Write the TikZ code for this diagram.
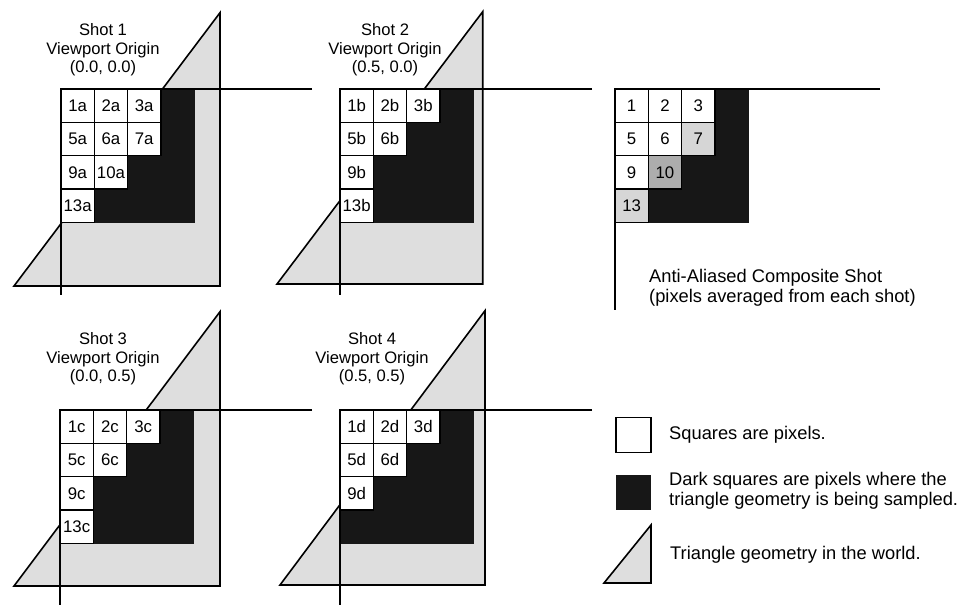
\documentclass[tikz,border=0pt]{standalone}
\usepackage{fontspec}
\setmainfont{Liberation Sans}
\definecolor{trifill}{rgb}{0.87,0.87,0.87}
\definecolor{darkfill}{rgb}{0.09,0.09,0.09}
\definecolor{avglight}{rgb}{0.84,0.84,0.84}
\definecolor{avgmid}{rgb}{0.68,0.68,0.68}
\begin{document}
\begin{tikzpicture}[x=1pt,y=-1pt,
  pix/.style={draw=black, fill=white, line width=1.2pt, minimum size=33.3pt, inner sep=0pt, font=\fontsize{16.8}{18}\selectfont},
  darkpix/.style={fill=darkfill, draw=darkfill, line width=0.6pt, minimum size=33.3pt, inner sep=0pt},
  tri/.style={fill=trifill, draw=black, line width=1.6pt, line join=miter},
  axisline/.style={draw=black, line width=1.7pt},
  shottitle/.style={align=center, inner sep=0pt, font=\fontsize{16.6}{18.7}\selectfont},
  legtext/.style={align=left, anchor=west, inner sep=0pt, font=\fontsize{18.3}{19.5}\selectfont}]
\def\s{33.3}
\useasboundingbox (0,0) rectangle (980,615);

% ---------- Shot 1 ----------
\draw[tri] (14,286) -- (220,12.7) -- (220,286) -- cycle;
\begin{scope}[shift={(61,89)}]
\foreach \r/\c in {0/3,1/3,2/2,2/3,3/1,3/2,3/3}
  \node[darkpix] (s1d\r\c) at ({(\c+0.5)*\s},{(\r+0.5)*\s}) {};
\foreach \lab/\r/\c in {1a/0/0,2a/0/1,3a/0/2,5a/1/0,6a/1/1,7a/1/2,9a/2/0,10a/2/1,13a/3/0}
  \node[pix] (s1\lab) at ({(\c+0.5)*\s},{(\r+0.5)*\s}) {\lab};
\end{scope}
\coordinate (s1o) at (61,89);
\coordinate (s1h) at (312,89);
\coordinate (s1v) at (61,295);
\draw[axisline] (s1h) -- (s1o) -- (s1v);
\node[shottitle] (t1) at (103,50) {Shot 1\\Viewport Origin\\(0.0, 0.0)};

% ---------- Shot 2 ----------
\draw[tri] (277,284) -- (482.7,11.7) -- (482.7,284) -- cycle;
\begin{scope}[shift={(340,89)}]
\foreach \r/\c in {0/3,1/2,1/3,2/1,2/2,2/3,3/1,3/2,3/3}
  \node[darkpix] (s2d\r\c) at ({(\c+0.5)*\s},{(\r+0.5)*\s}) {};
\foreach \lab/\r/\c in {1b/0/0,2b/0/1,3b/0/2,5b/1/0,6b/1/1,9b/2/0,13b/3/0}
  \node[pix] (s2\lab) at ({(\c+0.5)*\s},{(\r+0.5)*\s}) {\lab};
\end{scope}
\coordinate (s2o) at (340,89);
\coordinate (s2h) at (592,89);
\coordinate (s2v) at (340,295);
\draw[axisline] (s2h) -- (s2o) -- (s2v);
\node[shottitle] (t2) at (385,50) {Shot 2\\Viewport Origin\\(0.5, 0.0)};

% ---------- Shot 3 ----------
\draw[tri] (14,586) -- (220,311.7) -- (220,586) -- cycle;
\begin{scope}[shift={(60,410)}]
\foreach \r/\c in {0/3,1/2,1/3,2/1,2/2,2/3,3/1,3/2,3/3}
  \node[darkpix] (s3d\r\c) at ({(\c+0.5)*\s},{(\r+0.5)*\s}) {};
\foreach \lab/\r/\c in {1c/0/0,2c/0/1,3c/0/2,5c/1/0,6c/1/1,9c/2/0,13c/3/0}
  \node[pix] (s3\lab) at ({(\c+0.5)*\s},{(\r+0.5)*\s}) {\lab};
\end{scope}
\coordinate (s3o) at (60,410);
\coordinate (s3h) at (312,410);
\coordinate (s3v) at (60,605);
\draw[axisline] (s3h) -- (s3o) -- (s3v);
\node[shottitle] (t3) at (103,359) {Shot 3\\Viewport Origin\\(0.0, 0.5)};

% ---------- Shot 4 ----------
\draw[tri] (280,585) -- (485,310.7) -- (485,585) -- cycle;
\begin{scope}[shift={(340,410)}]
\foreach \r/\c in {0/3,1/2,1/3,2/1,2/2,2/3,3/0,3/1,3/2,3/3}
  \node[darkpix] (s4d\r\c) at ({(\c+0.5)*\s},{(\r+0.5)*\s}) {};
\foreach \lab/\r/\c in {1d/0/0,2d/0/1,3d/0/2,5d/1/0,6d/1/1,9d/2/0}
  \node[pix] (s4\lab) at ({(\c+0.5)*\s},{(\r+0.5)*\s}) {\lab};
\end{scope}
\coordinate (s4o) at (340,410);
\coordinate (s4h) at (592,410);
\coordinate (s4v) at (340,605);
\draw[axisline] (s4h) -- (s4o) -- (s4v);
\node[shottitle] (t4) at (372,359) {Shot 4\\Viewport Origin\\(0.5, 0.5)};

% ---------- Composite ----------
\begin{scope}[shift={(615,89)}]
\foreach \r/\c in {0/3,1/3,2/2,2/3,3/1,3/2,3/3}
  \node[darkpix] (cd\r\c) at ({(\c+0.5)*\s},{(\r+0.5)*\s}) {};
\foreach \lab/\r/\c in {1/0/0,2/0/1,3/0/2,5/1/0,6/1/1,9/2/0}
  \node[pix] (c\lab) at ({(\c+0.5)*\s},{(\r+0.5)*\s}) {\lab};
\node[pix, fill=avglight] (c7) at ({2.5*\s},{1.5*\s}) {7};
\node[pix, fill=avgmid] (c10) at ({1.5*\s},{2.5*\s}) {10};
\node[pix, fill=avglight] (c13) at ({0.5*\s},{3.5*\s}) {13};
\end{scope}
\coordinate (co) at (615,89);
\coordinate (ch) at (880,89);
\coordinate (cv) at (615,310);
\draw[axisline] (ch) -- (co) -- (cv);
\node[legtext] (ctext) at (649,288) {Anti-Aliased Composite Shot\\(pixels averaged from each shot)};

% ---------- Legend ----------
\node[draw=black, fill=white, line width=1.2pt, minimum size=35pt, inner sep=0pt] (lw) at (633.5,435) {};
\node[legtext] (lwt) at (669,435) {Squares are pixels.};
\node[fill=darkfill, minimum size=35pt, inner sep=0pt] (ld) at (633.5,492.5) {};
\node[legtext] (ldt) at (669,491) {Dark squares are pixels where the\\triangle geometry is being sampled.};
\draw[tri] (604,583) -- (651,525) -- (651,583) -- cycle;
\node[legtext] (ltt) at (670,555) {Triangle geometry in the world.};
\end{tikzpicture}
\end{document}
